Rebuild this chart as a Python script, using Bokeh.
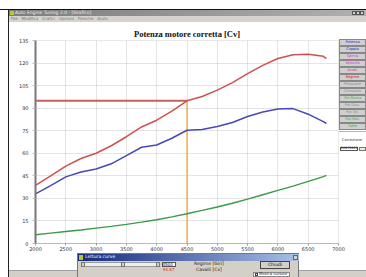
from bokeh.plotting import figure
from bokeh.models import Range1d, FixedTicker, Div
from bokeh.layouts import column
from bokeh.embed import file_html
from bokeh.resources import INLINE

# ---- data ----
rpm = [2000, 2250, 2500, 2750, 3000, 3250, 3500, 3750, 4000, 4250, 4500,
       4750, 5000, 5250, 5500, 5750, 6000, 6250, 6500, 6750, 6800]
potenza = [38.7, 45.0, 51.5, 56.5, 60.0, 65.0, 71.0, 77.5, 82.0, 88.0, 94.9,
           97.8, 102.0, 107.0, 113.0, 118.5, 123.0, 125.5, 125.8, 124.5, 123.0]
coppia = [33.0, 38.5, 44.3, 47.5, 49.5, 53.0, 58.5, 64.0, 65.5, 70.0, 75.3,
          75.8, 77.8, 80.5, 84.5, 87.5, 89.5, 89.7, 86.0, 81.0, 79.8]
terza = [5.8, 6.9, 8.0, 9.0, 10.2, 11.4, 12.7, 14.2, 15.8, 17.7, 19.8,
         22.0, 24.3, 26.8, 29.5, 32.4, 35.3, 38.2, 41.3, 44.5, 45.3]
cursor_rpm = 4500
cursor_cv = 94.87
y_ticks = [0, 15, 30, 45, 60, 75, 90, 105, 120, 135]
x_ticks = [2000, 2500, 3000, 3500, 4000, 4500, 5000, 5500, 6000, 6500, 7000]
buttons = ["Potenza", "Coppia", "Spinta", "Velocità", "Accel.", "Regime",
           "Pressione", "Consumo", "Pot.Ruota", "Pot.Diss.", "Pot.Tot.",
           "Pot.Mot.", "Tutte"]
button_colors = ["#2a2ac8", "#2a2ac8", "#d030d0", "#d030d0", "#d03070", "#d02020",
                 "#8a8a8a", "#8a8a8a", "#30b030", "#8a8a8a", "#8a8a8a",
                 "#30b030", "#30b030"]

W, H = 366, 277
p = figure(width=W, height=H, output_backend="svg", toolbar_location=None,
           x_range=Range1d(2000, 7000), y_range=Range1d(0, 135),
           min_border_left=35, min_border_right=28, min_border_top=40,
           min_border_bottom=34)
p.background_fill_color = "white"
p.border_fill_color = "white"
p.outline_line_color = "#d0d0d0"
p.outline_line_dash = "1 1"

p.title.text = "Potenza motore corretta [Cv]"
p.title.text_font = "Liberation Serif"
p.title.text_font_size = "8.5px"
p.title.text_font_style = "bold"
p.title.text_color = "#111111"
p.title.align = "center"
p.title.offset = 3.5
p.title.standoff = 4

for ax in (p.xaxis[0], p.yaxis[0]):
    ax.minor_tick_line_color = None
    ax.major_label_text_font = "DejaVu Sans"
    ax.major_label_text_font_size = "5px"
    ax.major_label_text_color = "#333333"
    ax.major_tick_in = 0
p.yaxis[0].ticker = FixedTicker(ticks=y_ticks)
p.xaxis[0].ticker = FixedTicker(ticks=x_ticks)
p.yaxis[0].axis_line_color = "#777777"
p.yaxis[0].axis_line_width = 2
p.yaxis[0].major_tick_out = 3
p.yaxis[0].major_tick_line_color = "#bbbbbb"
p.yaxis[0].major_label_standoff = 4
p.xaxis[0].axis_line_color = "#bbbbbb"
p.xaxis[0].major_tick_out = 2
p.xaxis[0].major_tick_line_color = "#999999"
p.xaxis[0].major_label_standoff = 1

for g in (p.xgrid[0], p.ygrid[0]):
    g.grid_line_color = "#c8c8c8"
    g.grid_line_dash = "1 1"
p.xgrid[0].ticker = FixedTicker(ticks=x_ticks)
p.ygrid[0].ticker = FixedTicker(ticks=y_ticks)

# cursor lines
p.line([x_ticks[0], cursor_rpm], [cursor_cv, cursor_cv], line_color="#c86060", line_width=2)
p.line([cursor_rpm, cursor_rpm], [y_ticks[0], cursor_cv], line_color="#e8a030", line_width=1.2)

p.line(rpm, terza, line_color="#3a9a4a", line_width=1.4)
p.line(rpm, coppia, line_color="#4848b8", line_width=1.5)
p.line(rpm, potenza, line_color="#d05050", line_width=1.5)

# ---- window chrome as an HTML overlay ----
parts = []


def box(l, t, r, b, bg, border=None):
    bd = f"border:{border};box-sizing:border-box;" if border else ""
    parts.append(f'<div style="position:absolute;left:{l}px;top:{t}px;width:{r - l}px;'
                 f'height:{b - t}px;background:{bg};{bd}"></div>')


def lab(x, y, text, size=5, color="#222", align="left", weight="normal"):
    tr = "translate(-50%,-50%)" if align == "center" else "translate(0,-50%)"
    parts.append(f'<span style="position:absolute;left:{x}px;top:{y}px;transform:{tr};'
                 f'font-family:\'DejaVu Sans\';font-size:{size}px;line-height:1;color:{color};'
                 f'white-space:nowrap;font-weight:{weight}">{text}</span>')


# application window frame
box(0, 9, W, 10, "#111")
box(7.5, 9, 8.5, H, "#222")
box(8.5, 10, W, 16, "linear-gradient(to right,#7c7c7c,#b0b0b0)")
box(9.5, 11, 13.5, 15, "#b8c830")
lab(15, 13, "Auto Engine Tuning 2.0 - [Grafico]", 4.5, "#eeeeee")
for k in range(3):
    box(352 + k * 4.2, 11, 355.6 + k * 4.2, 15, "#d4d0c8", "0.5px solid #555")
box(8.5, 16, W, 22, "#d6d3ce")
lab(11, 19, "File&nbsp;&nbsp; Modifica&nbsp;&nbsp; Grafici&nbsp;&nbsp; Opzioni&nbsp;&nbsp; Finestre&nbsp;&nbsp; Aiuto", 4, "#777")

# right button panel
for i, (name, col) in enumerate(zip(buttons, button_colors)):
    top = 39.2 + 7 * i
    box(339, top, W, top + 6.6, "#cfcfcf", "0.8px solid #888")
    lab(352.5, top + 3.4, name, 3.6, col, "center")
box(339, 130.5, W, 131.3, "#b8b8b8")
lab(352, 140, "Correzione", 3.8, "#333", "center")
box(340, 146.5, 358, 151, "white", "0.8px solid #555")
lab(341, 148.8, "DIN70020", 3.4, "#222")
box(359, 146.5, W, 151, "#f0f0c8", "0.8px solid #777")

# status bar
box(8.5, 270, W, H, "#d4d0c8")
box(8.5, 269.5, W, 270, "#a0a0a0")

# bottom dialog
box(77, 253, 299, H + 2, "#d4d0c8", "0.8px solid #777")
box(77.5, 253.5, 298.5, 261, "linear-gradient(to right,#15297a,#a6c0e8)")
box(79, 254.5, 83, 259.5, "#b8c830")
lab(85, 257.2, "Lettura curve", 4.5, "white")
box(293, 254.5, 298, 259.5, "#d4d0c8", "0.6px solid #666")
box(80.5, 262, 160, 267, "#eeeeee", "0.6px solid #999")
box(80.5, 262, 85, 267, "#d4d0c8", "0.6px solid #777")
box(121, 262, 125, 267, "#d4d0c8", "0.6px solid #777")
box(156, 262, 160, 267, "#d4d0c8", "0.6px solid #777")
box(161.5, 262, 175.5, 267, "white", "0.6px solid #555")
lab(162.5, 264.6, str(cursor_rpm), 4, "#111")
lab(163, 270.3, str(cursor_cv), 4, "#e02020")
lab(194, 263.6, "Regime [Giri]", 4.5, "#222")
lab(196, 270.3, "Cavalli [Cv]", 4.5, "#222")
box(260, 261, 290, 268.5, "#d4d0c8", "0.8px solid #444")
lab(275, 264.8, "Chiudi", 4.5, "#111", "center")
box(253, 271.5, 290, H, "white", "0.6px solid #888")
box(254.5, 272.5, 257.5, 275.5, "white", "0.6px solid #444")
lab(259, 274.3, "Mostra cursore", 3.8, "#222")

overlay = Div(text='<div style="position:relative;width:%dpx;height:%dpx;overflow:hidden;pointer-events:none">%s</div>'
              % (W, H, "".join(parts)),
              width=W, height=H, margin=0,
              styles={"position": "absolute", "left": "0px", "top": "0px", "z-index": "10",
                      "pointer-events": "none"})

layout = column(p, overlay, spacing=0, width=W, height=H,
                styles={"position": "relative"})

open("out.html", "w").write(file_html(layout, INLINE))
